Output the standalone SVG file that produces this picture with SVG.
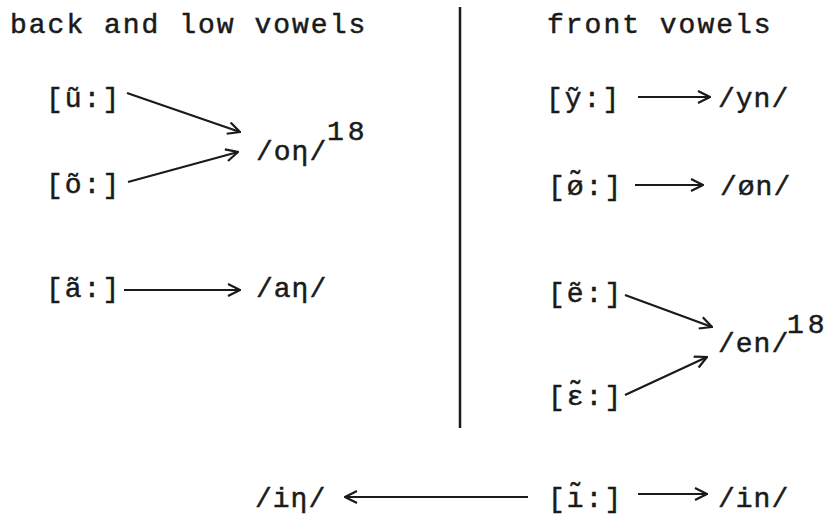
<svg xmlns="http://www.w3.org/2000/svg" width="837" height="517" viewBox="0 0 837 517">
<style>
text{font-family:"Liberation Mono","DejaVu Sans Mono",monospace;font-size:28px;fill:#1a1a1a;stroke:#1a1a1a;stroke-width:0.5;letter-spacing:2px}
.ph{letter-spacing:1px}
.sup{letter-spacing:4px}
.c line{stroke:#1a1a1a;stroke-width:2.2;fill:none}
</style>
<defs>
<marker id="ah" viewBox="0 0 14 14" refX="13" refY="7" markerWidth="14" markerHeight="14" markerUnits="userSpaceOnUse" orient="auto">
<path d="M1,1 L13,7 L1,13" fill="none" stroke="#1a1a1a" stroke-width="2.2"/>
</marker>
</defs>
<g id="headers">
<text x="10" y="33">back and low vowels</text>
<text x="547" y="33">front vowels</text>
</g>
<g id="divider"><line x1="460" y1="7" x2="460" y2="428" stroke="#1a1a1a" stroke-width="2.5"/></g>
<g id="n-u"><text x="46" y="107">[ũ:]</text></g>
<g id="n-o"><text x="46" y="193">[õ:]</text></g>
<g id="n-on"><text class="ph" x="256" y="160">/oη/</text><text class="sup" x="327" y="140">18</text></g>
<g id="n-a"><text x="46" y="297">[ã:]</text></g>
<g id="n-an"><text class="ph" x="256" y="297">/aη/</text></g>
<g id="n-y"><text x="546" y="107">[ỹ:]</text></g>
<g id="n-yn"><text class="ph" x="718" y="107">/yn/</text></g>
<g id="n-oe"><text x="548" y="195">[ø̃:]</text></g>
<g id="n-oen"><text class="ph" x="720" y="195">/øn/</text></g>
<g id="n-e"><text x="548" y="302">[ẽ:]</text></g>
<g id="n-eps"><text x="548" y="405">[ɛ̃:]</text></g>
<g id="n-en"><text class="ph" x="718" y="352">/en/</text><text class="sup" x="787" y="333">18</text></g>
<g id="n-ieta"><text class="ph" x="255" y="507">/iη/</text></g>
<g id="n-i"><text x="548" y="507">[ı̃:]</text></g>
<g id="n-in"><text class="ph" x="718" y="507">/in/</text></g>
<g id="connectors" class="c">
<line x1="127" y1="93" x2="240" y2="132" marker-end="url(#ah)"/>
<line x1="128" y1="182" x2="238" y2="152" marker-end="url(#ah)"/>
<line x1="124" y1="290" x2="240" y2="290" marker-end="url(#ah)"/>
<line x1="638" y1="97" x2="710" y2="97" marker-end="url(#ah)"/>
<line x1="635" y1="185" x2="703" y2="185" marker-end="url(#ah)"/>
<line x1="625" y1="295" x2="712" y2="327" marker-end="url(#ah)"/>
<line x1="625" y1="395" x2="707" y2="357" marker-end="url(#ah)"/>
<line x1="528" y1="497" x2="345" y2="497" marker-end="url(#ah)"/>
<line x1="638" y1="494" x2="707" y2="494" marker-end="url(#ah)"/>
</g>
</svg>
